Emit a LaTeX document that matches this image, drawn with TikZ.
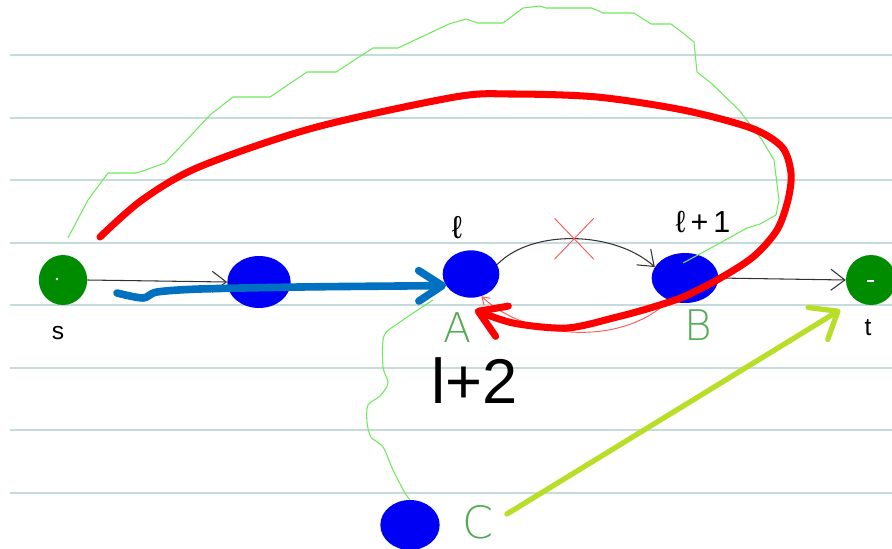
\documentclass[tikz,border=0pt]{standalone}
\usepackage{fontspec}
\setmainfont{Liberation Sans}
\newfontfamily\manual{DejaVu Sans ExtraLight}
\usetikzlibrary{arrows.meta,shapes.misc,shapes.geometric}

\definecolor{ratlla}{RGB}{196,220,220}
\definecolor{verdnode}{RGB}{0,140,0}
\definecolor{blaunode}{RGB}{0,0,245}
\definecolor{blaufletxa}{RGB}{0,112,192}
\definecolor{vermell}{RGB}{255,0,0}
\definecolor{vermellclar}{RGB}{255,90,90}
\definecolor{verdclar}{RGB}{110,235,90}
\definecolor{verdlletra}{RGB}{85,170,85}
\definecolor{groc}{RGB}{185,222,40}
\definecolor{negre}{RGB}{50,50,50}

\begin{document}
\begin{tikzpicture}[x=0.03cm, y=-0.03cm,
    blob/.style={ellipse, inner sep=0pt},
    prima/.style={-{Straight Barb[length=12pt,width=18pt]}, line width=0.9pt, negre},
    gruixuda/.style={line width=6pt, line cap=round, line join=round}]
    % FULL RATLLAT
    \useasboundingbox[fill=white] (0,0) rectangle (892,548);
    \foreach \y in {55,118,180,243,305,368,430,493}
        \draw[ratlla, line width=1.2pt] (10,\y) -- (892,\y);

    % NODES
    \node[blob, fill=verdnode, minimum width=1.45cm, minimum height=1.5cm] (s) at (63,280) {};
    \node[blob, fill=blaunode, minimum width=1.9cm, minimum height=1.56cm] (p) at (259,282) {};
    \node[blob, fill=blaunode, minimum width=1.7cm, minimum height=1.42cm] (A) at (471,274) {};
    \node[blob, fill=blaunode, minimum width=2cm, minimum height=1.5cm] (B) at (685,278) {};
    \node[blob, fill=verdnode, minimum width=1.5cm, minimum height=1.5cm] (t) at (871,280) {};
    \node[blob, fill=blaunode, minimum width=1.78cm, minimum height=1.5cm] (C) at (410,525) {};
    \fill[white] ([shift={(-6,-1)}]s.center) circle (1.1pt);
    \fill[white] ([shift={(-4,0)}]t.center) rectangle ([shift={(3,2)}]t.center);

    % ETIQUETES
    \node (ls) at (58,333) {\fontsize{21}{24}\selectfont s};
    \node (lt) at (868,328) {\fontsize{21}{24}\selectfont t};
    \node (ll) at (457,228) {\fontsize{27}{30}\selectfont ℓ};
    \node (ll1) at (703,222) {\fontsize{26}{30}\selectfont ℓ\,+\,1};
    \node[text=verdlletra] (lA) at (458,328) {\manual\fontsize{35}{40}\selectfont A};
    \node[text=verdlletra] (lB) at (698,325) {\manual\fontsize{36}{40}\selectfont B};
    \node[text=verdlletra, inner sep=1pt] (lC) at (478,522) {\manual\fontsize{38}{40}\selectfont C};
    \node (l2) at (475,381) {\fontsize{54}{60}\selectfont l+2};

    % ARESTES PRIMES
    \draw[prima] (s.east) -- (p.west);
    \draw[prima] (A.20) .. controls +(35,-36) and +(-40,-36) ..
        node[cross out, draw=vermellclar, line width=0.8pt, minimum width=1.15cm, minimum height=1.2cm] (X) {} (B.160);
    \draw[prima] (B.east) -- (t.west);

    % CAMINS VERDS A MA
    \coordinate (g0) at ([shift={(5,-17)}]s.north);
    \draw[verdclar, line width=0.9pt, line join=round] (g0) -- (88,200) -- (108,173) -- (137,173) -- (165,163)
        -- (210,115) -- (233,97) -- (270,97) -- (307,72) -- (336,72) -- (373,48) -- (398,48) -- (449,24)
        -- (466,19) -- (478,23) -- (503,23) -- (523,8) -- (540,6) -- (546,8) -- (592,8) -- (603,13)
        -- (634,13) -- (651,24) -- (671,24) -- (683,33) -- (694,42) -- (697,72) -- (711,83) -- (739,110)
        -- (762,140) -- (774,160) -- (779,200) -- (776,215) -- (760,224) -- (747,228) -- (720,243)
        -- ([shift={(-2,-15)}]B.center);
    \coordinate (g1) at ([shift={(-38,26)}]A.center);
    \draw[verdclar, line width=0.9pt] plot[smooth, tension=0.5] coordinates {(g1) (400,322) (384,336) (383,367)
        (388,383) (380,396) (368,405) (367,422) (371,437) (383,447) (393,470) (405,493) (C.north)};

    % RETORN VERMELL PRIM
    \draw[vermellclar, line width=0.8pt, -{Straight Barb[length=6pt,width=8pt]}]
        (B.235) .. controls +(-50,48) and +(45,42) .. (A.295);

    % CAMI BLAU
    \coordinate (b0) at (117,293);
    \draw[blaufletxa, gruixuda, line width=6.5pt, -{Straight Barb[length=20pt,width=26pt,round]}]
        plot[smooth, tension=0.5] coordinates {(b0) (143,298) (157,292) (200,289) (300,287) (400,286) (A.205)};

    % CAMI VERMELL
    \coordinate (r0) at (100,237);
    \draw[vermell, gruixuda, -{Straight Barb[length=22pt,width=28pt,round]}]
        plot[smooth, tension=0.5] coordinates {(r0) (142,200) (199,167) (313,128) (455,97) (512,94) (597,97)
        (683,110) (751,128) (782,147) (791,173) (788,200) (777,230) (753,257) (717,280) (683,297)
        (650,308) (617,317) (567,328) (513,323) ([shift={(4,12)}]A.south)};

    % FLETXA GROGA
    \draw[groc, line width=4.5pt, line cap=round, -{Straight Barb[length=20pt,width=32pt,round]}]
        ([shift={(12,-8)}]lC.east) -- ([shift={(-13,12)}]t.south west);
\end{tikzpicture}
\end{document}
